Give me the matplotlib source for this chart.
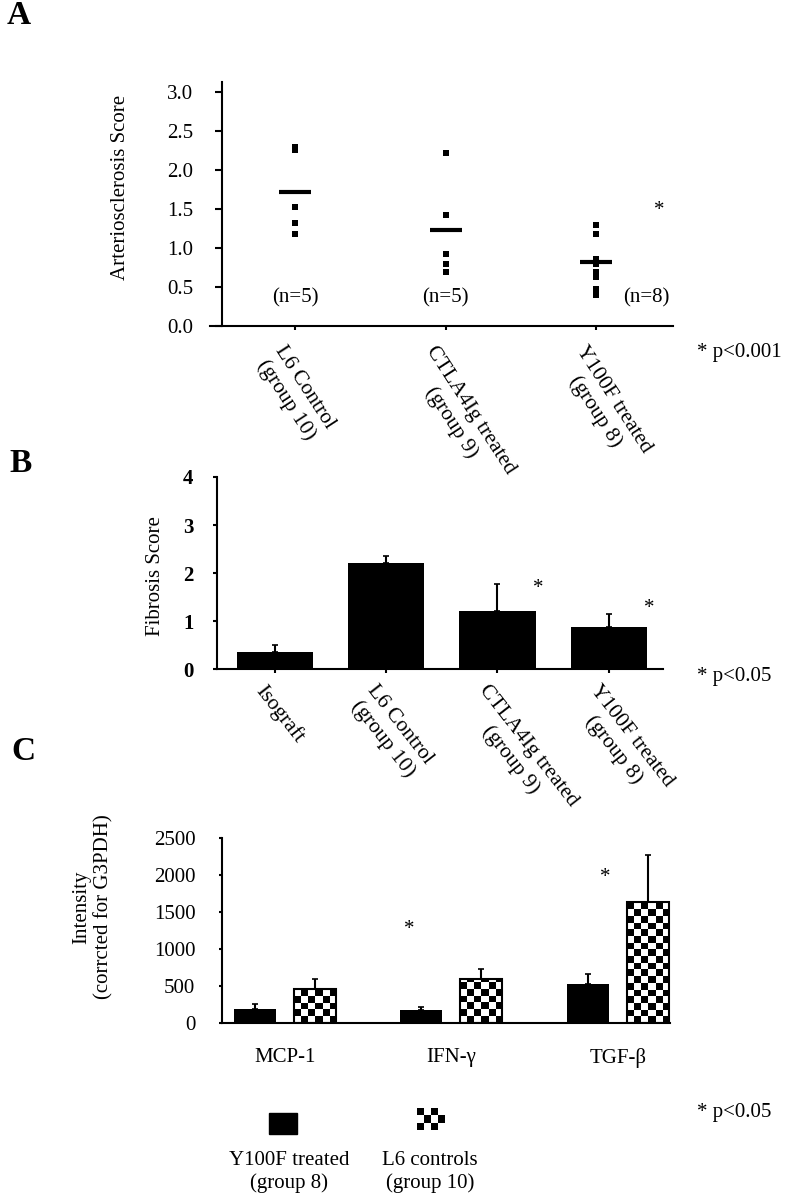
import matplotlib
matplotlib.use('Agg')
import matplotlib.pyplot as plt
import matplotlib.transforms as mtransforms
from matplotlib.patches import Rectangle
import numpy as np

plt.rcParams['font.family'] = ['Liberation Serif', 'DejaVu Serif']

# panel A - arteriosclerosis score, single animals + group mean
art_groups = ['L6 Control\n(group 10)', 'CTLA4Ig treated\n(group 9)', 'Y100F treated\n(group 8)']
art_scores = [
    [2.29, 2.25, 1.53, 1.32, 1.18],
    [2.22, 1.42, 0.92, 0.79, 0.69],
    [1.29, 1.18, 0.86, 0.80, 0.69, 0.63, 0.47, 0.40],
]
art_means = [1.72, 1.23, 0.82]

# panel B - fibrosis score
fib_groups = ['Isograft', 'L6 Control\n(group 10)', 'CTLA4Ig treated\n(group 9)', 'Y100F treated\n(group 8)']
fib_means = [0.35, 2.21, 1.22, 0.89]
fib_err = [0.16, 0.15, 0.56, 0.26]

# panel C - cytokine intensity
cyto_names = ['MCP-1', 'IFN-γ', 'TGF-β']
y100f_int = [193, 180, 527]
y100f_err = [64, 44, 135]
l6_int = [464, 595, 1635]
l6_err = [135, 139, 639]

W, H = 787, 1199


def box(l, t, r, b):
    # pixel box (left, top, right, bottom) -> figure fraction rect
    return [l / W, 1 - b / H, (r - l) / W, (b - t) / H]


fig = plt.figure(figsize=(W / 100, H / 100), dpi=100)


def style(ax, lw=1.5):
    for s in ['top', 'right']:
        ax.spines[s].set_visible(False)
    ax.spines['left'].set_linewidth(lw)
    ax.spines['bottom'].set_linewidth(lw)


def shift_labels(ax, dx_px):
    off = mtransforms.ScaledTranslation(dx_px / 100, 0, fig.dpi_scale_trans)
    for lab in ax.get_xticklabels():
        lab.set_transform(lab.get_transform() + off)


# ---------------- A ----------------
axA = fig.add_axes(box(209.6, 82, 673, 326))
style(axA)
xa = np.arange(len(art_groups))
for i, vals in enumerate(art_scores):
    axA.plot(np.full(len(vals), xa[i]), vals, 's', ms=4, color='black', mew=0)
axA.hlines(art_means, xa - 0.106, xa + 0.106, colors='black', lw=3)
n_dx = [0, 0, 0.33]
for i, vals in enumerate(art_scores):
    axA.text(xa[i] + n_dx[i], 0.36, '(n=%d)' % len(vals), ha='center', va='center', fontsize=15)
axA.annotate('*', (2.42, 1.55), xytext=(0, -4), textcoords='offset points',
             ha='center', va='center', fontsize=15)
axA.set_xlim(-0.567, 2.51)
axA.set_ylim(0, 3.128)
axA.spines['left'].set_position(('axes', 0.0274))
axA.set_yticks(np.arange(0, 3.01, 0.5))
axA.set_yticklabels(['%.1f' % v for v in np.arange(0, 3.01, 0.5)])
axA.set_xticks(xa)
axA.set_xticklabels(art_groups, rotation=-57, ha='left', va='top',
                    rotation_mode='anchor', multialignment='center', fontsize=15.5)
axA.tick_params(axis='x', direction='out', length=3, width=1.5, pad=9)
axA.tick_params(axis='y', direction='out', length=5, width=1.5, pad=16, labelsize=15)
shift_labels(axA, -8)

# ---------------- B ----------------
axB = fig.add_axes(box(217, 477, 663, 669.3))
style(axB)
xb = np.arange(len(fib_groups))
axB.bar(xb, fib_means, width=0.685, color='black')
axB.errorbar(xb, fib_means, yerr=[np.zeros(len(xb)), fib_err], fmt='none',
             ecolor='black', elinewidth=1.5, capsize=2, capthick=1.2)
for i, y in [(2, 1.79), (3, 1.39)]:
    axB.annotate('*', (xb[i] + 0.37, y), xytext=(0, -4), textcoords='offset points',
                 ha='center', va='center', fontsize=15)
axB.set_xlim(-0.525, 3.49)
axB.set_ylim(0, 4)
axB.set_yticks(range(5))
axB.set_yticklabels([str(v) for v in range(5)], fontweight='bold')
axB.set_xticks(xb)
axB.set_xticklabels(fib_groups, rotation=-52, ha='left', va='top',
                    rotation_mode='anchor', multialignment='center', fontsize=15.5)
axB.tick_params(axis='x', direction='out', length=3, width=1.5, pad=6)
axB.tick_params(axis='y', direction='out', length=3, width=1.5, pad=14, labelsize=15)
shift_labels(axB, -8)

# ---------------- C ----------------
axC = fig.add_axes(box(221.8, 838.3, 670.5, 1023.3))
style(axC)
xc = np.arange(len(cyto_names))
off, bw = 0.18, 0.252
axC.bar(xc - off, y100f_int, bw, color='black', zorder=3)
chk = axC.bar(xc + off, l6_int, bw, facecolor='none', edgecolor='black', linewidth=1.5, zorder=3)
axC.errorbar(xc - off, y100f_int, yerr=[np.zeros(3), y100f_err], fmt='none',
             ecolor='black', elinewidth=1.5, capsize=2, capthick=1.2, zorder=4)
axC.errorbar(xc + off, l6_int, yerr=[np.zeros(3), l6_err], fmt='none',
             ecolor='black', elinewidth=1.5, capsize=2, capthick=1.2, zorder=4)
axC.set_xlim(-0.377, 2.315)
axC.set_ylim(0, 2500)

# checkerboard fill for the L6 bars
cell = 6.7
for rect in chk:
    x0, w, h = rect.get_x(), rect.get_width(), rect.get_height()
    p0 = axC.transData.transform((x0, 0))
    p1 = axC.transData.transform((x0 + w, h))
    nx = max(1, int(round((p1[0] - p0[0]) / cell)))
    ny = int(np.ceil((p1[1] - p0[1]) / cell))
    top = ny * cell * h / (p1[1] - p0[1])
    board = np.indices((ny, nx)).sum(0) % 2
    im = axC.imshow(board, cmap='gray_r', vmin=0, vmax=1, extent=(x0, x0 + w, 0, top),
                    origin='lower', interpolation='nearest', aspect='auto', zorder=2)
    im.set_clip_path(rect)
axC.set_xlim(-0.377, 2.315)
axC.set_ylim(0, 2500)

for x, y in [(0.746, 1342), (1.922, 2049)]:
    axC.annotate('*', (x, y), xytext=(0, -4), textcoords='offset points',
                 ha='center', va='center', fontsize=15)
axC.set_yticks(range(0, 2501, 500))
axC.set_xticks(xc)
axC.set_xticklabels(cyto_names, fontsize=15)
axC.tick_params(axis='x', length=0, pad=18)
axC.tick_params(axis='y', direction='out', length=2, width=1.5, pad=17, labelsize=15)

# ---------------- legend ----------------
axL = fig.add_axes(box(200, 1095, 560, 1199))
axL.set_xlim(200, 560)
axL.set_ylim(1199, 1095)
axL.axis('off')
axL.add_patch(Rectangle((269.3, 1112.7), 28, 21.3, color='black'))
icon = 1 - np.indices((3, 4)).sum(0) % 2
axL.imshow(icon, cmap='gray_r', vmin=0, vmax=1, extent=(417, 445, 1130, 1108),
           interpolation='nearest', aspect='auto')
axL.set_xlim(200, 560)
axL.set_ylim(1199, 1095)
axL.text(289, 1172, 'Y100F treated\n(group 8)', ha='center', va='center', fontsize=15)
axL.text(430, 1172, 'L6 controls\n(group 10)', ha='center', va='center', fontsize=15)

# ---------------- figure texts ----------------
for lab, (x, y) in zip('ABC', [(7, 15), (9, 463), (11, 751)]):
    fig.text(x / W, 1 - y / H, lab, fontsize=24, fontweight='bold', va='center')
fig.text(121 / W, 1 - 187 / H, 'Arteriosclerosis Score', rotation=90,
         ha='center', va='center', fontsize=15)
fig.text(155 / W, 1 - 576 / H, 'Fibrosis Score', rotation=90,
         ha='center', va='center', fontsize=15)
fig.text(93 / W, 1 - 907 / H, 'Intensity\n(corrcted for G3PDH)', rotation=90,
         ha='center', va='center', multialignment='center', fontsize=15)
for txt, y in [('* p<0.001', 352), ('* p<0.05', 677), ('* p<0.05', 1112)]:
    fig.text(697 / W, 1 - y / H, txt, va='center', fontsize=15)

fig.savefig('out.png', dpi=100)
